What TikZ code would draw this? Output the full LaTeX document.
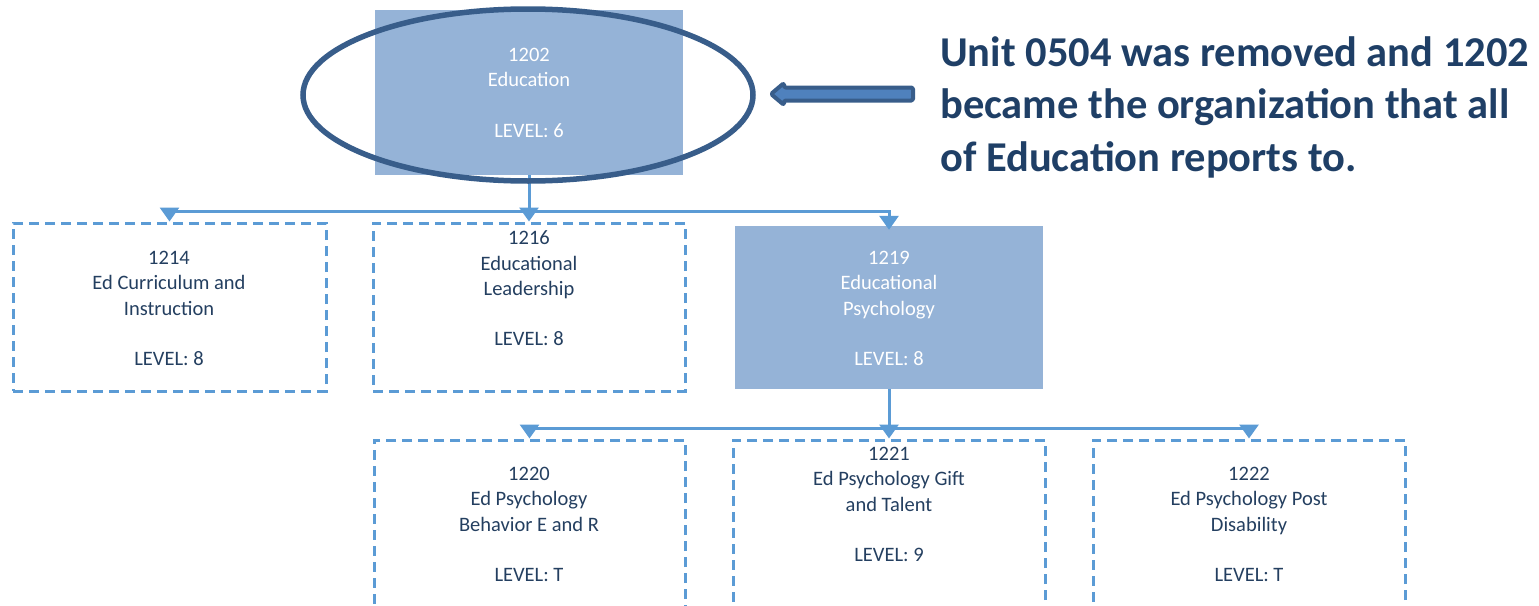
\documentclass[tikz,border=0pt]{standalone}
\usepackage{fontspec}
\setmainfont{Carlito}
\usetikzlibrary{arrows.meta,shapes.geometric}
\definecolor{boxfill}{HTML}{95B3D7}
\definecolor{linecol}{HTML}{5B9BD5}
\definecolor{ovalcol}{HTML}{385D8A}
\definecolor{arrfill}{HTML}{4F81BD}
\definecolor{titlecol}{HTML}{1F3F66}
\definecolor{txtcol}{HTML}{243F60}
\tikzset{
  fbox/.style={rectangle, fill=boxfill, draw=none, inner sep=0pt},
  dbox/.style={rectangle, draw=linecol, line width=3pt, dash pattern=on 10pt off 6pt, inner sep=0pt},
  lbl/.style={inner sep=0pt, align=center, text=txtcol, font=\fontsize{20.5}{25.3}\selectfont},
  wlbl/.style={lbl, text=white},
  conn/.style={draw=linecol, line width=3pt},
  arr/.style={conn, -{Triangle[width=19pt,length=14pt]}},
}
\begin{document}
\begin{tikzpicture}[x=1pt,y=-1pt]
\useasboundingbox (0,0) rectangle (1539,605);
\clip (0,0) rectangle (1539,605);
% boxes
\node[fbox, minimum width=308pt, minimum height=165pt] (b1202) at (529,92.5) {};
\node[dbox, minimum width=313pt, minimum height=168pt] (b1214) at (169.5,307) {};
\node[dbox, minimum width=312pt, minimum height=168pt] (b1216) at (529,307) {};
\node[fbox, minimum width=308pt, minimum height=163pt] (b1219) at (889,307.5) {};
\node[dbox, minimum width=311pt, minimum height=200pt] (b1220) at (529.5,540) {};
\node[dbox, minimum width=312pt, minimum height=200pt] (b1221) at (889,540) {};
\node[dbox, minimum width=312pt, minimum height=200pt] (b1222) at (1249,540) {};
% labels
\node[wlbl] (t1202) at (529,93) {1202\\Education\\[25.3pt]LEVEL: 6};
\node[lbl] (t1214) at (169,308.5) {1214\\Ed Curriculum and\\Instruction\\[25.3pt]LEVEL: 8};
\node[lbl] (t1216) at (529,288.5) {1216\\Educational\\Leadership\\[25.3pt]LEVEL: 8};
\node[wlbl] (t1219) at (889,308.5) {1219\\Educational\\Psychology\\[25.3pt]LEVEL: 8};
\node[lbl] (t1220) at (529,524.5) {1220\\Ed Psychology\\Behavior E and R\\[25.3pt]LEVEL: T};
\node[lbl] (t1221) at (889,504.5) {1221\\Ed Psychology Gift\\and Talent\\[25.3pt]LEVEL: 9};
\node[lbl] (t1222) at (1249,524.5) {1222\\Ed Psychology Post\\Disability\\[25.3pt]LEVEL: T};
% connectors
\coordinate (j1) at (529,211);
\coordinate (j2) at (889,428);
\draw[conn] (b1202.south) -- (j1);
\draw[arr] (j1) -- (b1216.north);
\draw[arr] (j1) -| (b1214.north);
\draw[arr] (j1) -| ([yshift=-4pt]b1219.north);
\draw[conn] (b1219.south) -- (j2);
\draw[arr] (j2) -- (b1221.north);
\draw[arr] (j2) -| (b1220.north);
\draw[arr] (j2) -| (b1222.north);
% highlight oval
\node[draw=ovalcol, line width=5.5pt, ellipse, minimum width=450pt, minimum height=172pt, inner sep=0pt] (oval) at (528,95) {};
% block arrow
\coordinate (ptr) at (771,94);
\draw[draw=ovalcol, fill=arrfill, line width=4pt, rounded corners=1.5pt, line join=round]
  (913,87.5) -- (784,87.5) -- (784,83) -- (ptr) -- (784,105) -- (784,100.5) -- (913,100.5) -- cycle;
% note
\node[anchor=north west, inner sep=0pt, align=left, text=titlecol,
      font=\fontsize{42.5}{52.5}\selectfont\bfseries] (note) at (940,36)
  {Unit 0504 was removed and 1202\\became the organization that all\\of Education reports to.};
\end{tikzpicture}
\end{document}
